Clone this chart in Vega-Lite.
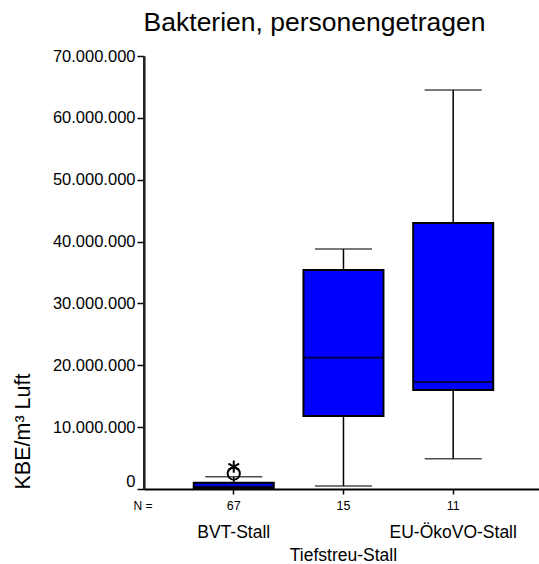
{
  "$schema": "https://vega.github.io/schema/vega-lite/v6.json",
  "width": 395,
  "height": 433,
  "autosize": {"type": "none"},
  "padding": {"left": 144, "top": 56, "right": 0, "bottom": 75},
  "background": "white",
  "config": {
    "locale": {"number": {"decimal": ",", "thousands": ".", "grouping": [3], "currency": ["", " €"]}},
    "font": "Liberation Sans",
    "view": {"stroke": null}
  },
  "title": {
    "text": "Bakterien, personengetragen",
    "fontSize": 26.5,
    "fontWeight": "normal",
    "font": "Liberation Sans",
    "color": "black",
    "anchor": "middle",
    "dx": -27,
    "offset": 12
  },
  "datasets": {
    "boxes": [
      {"group": "BVT-Stall", "n": 67, "lower": 0, "q1": 150000, "median": 400000, "q3": 1000000, "upper": 2000000},
      {"group": "Tiefstreu-Stall", "n": 15, "lower": 500000, "q1": 11800000, "median": 21200000, "q3": 35400000, "upper": 38800000},
      {"group": "EU-ÖkoVO-Stall", "n": 11, "lower": 4900000, "q1": 16000000, "median": 17300000, "q3": 43000000, "upper": 64500000}
    ],
    "outliers": [
      {"group": "BVT-Stall", "value": 2500000, "kind": "o"},
      {"group": "BVT-Stall", "value": 3600000, "kind": "*"}
    ],
    "frame": [{"top": 70000000}]
  },
  "layer": [
    {
      "encoding": {
        "x": {
          "field": "group",
          "type": "nominal",
          "sort": null,
          "scale": {"domain": ["BVT-Stall", "Tiefstreu-Stall", "EU-ÖkoVO-Stall"], "paddingInner": 0, "paddingOuter": 0.3, "align": 0.53},
          "axis": {
            "title": "N =",
            "titleX": 8,
            "titleY": 16,
            "titleAlign": "right",
            "titleBaseline": "middle",
            "titleFontSize": 12,
            "titleFontWeight": "normal",
            "titleColor": "black",
            "labelExpr": "datum.value == 'BVT-Stall' ? '67' : datum.value == 'Tiefstreu-Stall' ? '15' : '11'",
            "labelFontSize": 12.5,
            "labelColor": "black",
            "labelPadding": 5,
            "labelAngle": 0,
            "tickSize": 5,
            "tickColor": "black",
            "tickWidth": 1.5,
            "domainColor": "black",
            "domainWidth": 2
          }
        }
      },
      "layer": [
        {
          "data": {"name": "boxes"},
          "mark": {"type": "rule", "color": "black", "strokeWidth": 1.5},
          "encoding": {
            "y": {
              "field": "lower",
              "type": "quantitative",
              "scale": {"domain": [0, 70000000], "nice": false},
              "axis": {
                "title": "KBE/m³ Luft",
                "values": [0, 10000000, 20000000, 30000000, 40000000, 50000000, 60000000, 70000000],
                "format": ",d",
                "labelFontSize": 16.5,
                "labelColor": "black",
                "labelPadding": 2,
                "labelBaseline": {"condition": {"test": "datum.value == 0", "value": "bottom"}, "value": "middle"},
                "tickSize": 7,
                "tickColor": "black",
                "tickWidth": 1.5,
                "domainColor": "black",
                "domainWidth": 2,
                "grid": false,
                "titleFontSize": 21.5,
                "titleFontWeight": "normal",
                "titleColor": "black",
                "titleAnchor": "start",
                "titlePadding": 18
              }
            },
            "y2": {"field": "upper"}
          }
        },
        {
          "data": {"name": "boxes"},
          "mark": {"type": "tick", "color": "black", "size": 57, "thickness": 1.5},
          "encoding": {"y": {"field": "upper", "type": "quantitative"}}
        },
        {
          "data": {"name": "boxes"},
          "mark": {"type": "tick", "color": "black", "size": 57, "thickness": 1.5},
          "encoding": {"y": {"field": "lower", "type": "quantitative"}}
        },
        {
          "data": {"name": "boxes"},
          "mark": {"type": "bar", "size": 80, "fill": "#0000ff", "stroke": "black", "strokeWidth": 2},
          "encoding": {
            "y": {"field": "q1", "type": "quantitative"},
            "y2": {"field": "q3"}
          }
        },
        {
          "data": {"name": "boxes"},
          "mark": {"type": "tick", "color": "black", "size": 80, "thickness": 2},
          "encoding": {"y": {"field": "median", "type": "quantitative"}}
        },
        {
          "data": {"name": "outliers"},
          "mark": {"type": "point", "filled": false, "stroke": "black", "strokeWidth": 2, "size": 150, "opacity": 1},
          "encoding": {
            "y": {"field": "value", "type": "quantitative"},
            "shape": {
              "field": "kind",
              "type": "nominal",
              "legend": null,
              "scale": {"domain": ["o", "*"], "range": ["circle", "M0,-1L0,1M-0.87,-0.5L0.87,0.5M-0.87,0.5L0.87,-0.5"]}
            }
          }
        },
        {
          "data": {"name": "frame"},
          "mark": {"type": "rule", "color": "#222222", "strokeWidth": 2},
          "encoding": {"y": {"field": "top", "type": "quantitative"}}
        }
      ]
    },
    {
      "data": {"name": "boxes"},
      "mark": {"type": "tick", "opacity": 0},
      "encoding": {
        "x": {
          "field": "group",
          "type": "nominal",
          "sort": null,
          "scale": {"domain": ["BVT-Stall", "Tiefstreu-Stall", "EU-ÖkoVO-Stall"], "paddingInner": 0, "paddingOuter": 0.3, "align": 0.53},
          "axis": {
            "orient": "bottom",
            "title": null,
            "domain": false,
            "ticks": false,
            "labelFontSize": 17.5,
            "labelColor": "black",
            "labelAngle": 0,
            "labelOverlap": false,
            "labelBound": false,
            "labelPadding": {"condition": {"test": "datum.value == 'Tiefstreu-Stall'", "value": 57}, "value": 34}
          }
        },
        "y": {"field": "median", "type": "quantitative"}
      }
    }
  ],
  "resolve": {"scale": {"x": "independent"}, "axis": {"x": "independent"}}
}
